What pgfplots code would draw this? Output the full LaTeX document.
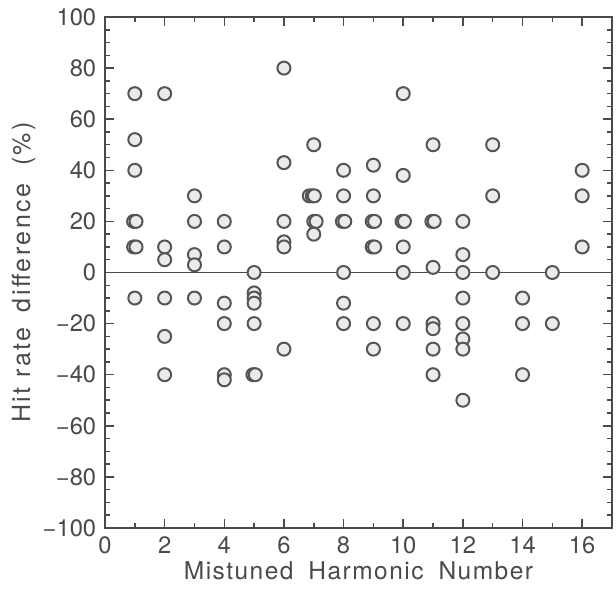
\documentclass[border=0pt]{standalone}
\usepackage{fontspec}
\setmainfont{TeX Gyre Heros}
\newfontfamily\labelfont[LetterSpace=6]{TeX Gyre Heros}
\newfontfamily\ylabelfont[LetterSpace=10]{TeX Gyre Heros}
\usepackage{pgfplots}
\pgfplotsset{compat=1.18}
\definecolor{inkgray}{HTML}{4A4A4A}
\definecolor{markfill}{HTML}{EBEBEB}
\definecolor{markedge}{HTML}{555555}

\begin{document}
\begin{tikzpicture}
% fixed page: 616x589 px at 0.4pt per px
\useasboundingbox (-42pt,-24.4pt) rectangle (204.4pt,211.2pt);
\begin{axis}[
  scale only axis,
  width=202.8pt, height=204.4pt,
  xmin=0, xmax=17, ymin=-100, ymax=100,
  xtick={0,2,...,16}, ytick={-100,-80,...,100},
  yticklabels={−100,−80,−60,−40,−20,0,20,40,60,80,100},
  minor x tick num=1, minor y tick num=3,
  tick align=inside,
  major tick length=3.6pt, minor tick length=2pt,
  axis line style={inkgray, line width=0.6pt},
  every tick/.style={inkgray, line width=0.6pt},
  /pgf/number format/assume math mode=true,
  tick label style={font=\fontsize{9.5}{11}\selectfont, text=inkgray},
  xlabel style={font=\labelfont\fontsize{9.8}{12}\selectfont, text=inkgray},
  ylabel style={font=\ylabelfont\fontsize{10}{12}\selectfont, text=inkgray},
  xlabel={Mistuned\hspace{6pt}Harmonic\hspace{6pt}Number},
  ylabel={Hit\hspace{4pt}rate\hspace{6pt}difference\hspace{7pt}(\%)},
  xlabel shift=-4pt, ylabel shift=-4pt,
  clip=false,
]
\addplot[inkgray, line width=0.3pt] coordinates {(0,0)(17,0)};
\addplot[only marks, mark=*, mark size=2.6pt,
  mark options={fill=markfill, draw=markedge, line width=0.8pt}]
coordinates {
  (1,70)(1,52)(1,40)(0.96,20)(1.04,20)(0.96,10)(1.04,10)(1,-10)
  (2,70)(2,10)(2,5)(2,-10)(2,-25)(2,-40)
  (3,30)(3,20)(3,7)(3,3)(3,-10)
  (4,20)(4,10)(4,-12)(4,-20)(4,-40)(4,-42)
  (5,0)(5,-8)(5,-10)(5,-12)(5,-20)(4.96,-40)(5.04,-40)
  (6,80)(6,43)(6,20)(6,12)(6,10)(6,-30)
  (7,50)(6.85,30)(6.95,30)(7.02,30)(7.0,20)(7.08,20)(7,15)
  (8,40)(8,30)(7.96,20)(8.04,20)(8,0)(8,-12)(8,-20)
  (9,42)(9,30)(8.96,20)(9.04,20)(8.96,10)(9.04,10)(9,-20)(9,-30)
  (10,70)(10,38)(9.96,20)(10.04,20)(10,10)(10,0)(10,-20)
  (11,50)(10.96,20)(11.04,20)(11,2)(11,-20)(11,-22)(11,-30)(11,-40)
  (12,20)(12,7)(12,0)(12,-10)(12,-20)(12,-26)(12,-30)(12,-50)
  (13,50)(13,30)(13,0)
  (14,-10)(14,-20)(14,-40)
  (15,0)(15,-20)
  (16,40)(16,30)(16,10)
};
\end{axis}
\end{tikzpicture}
\end{document}
